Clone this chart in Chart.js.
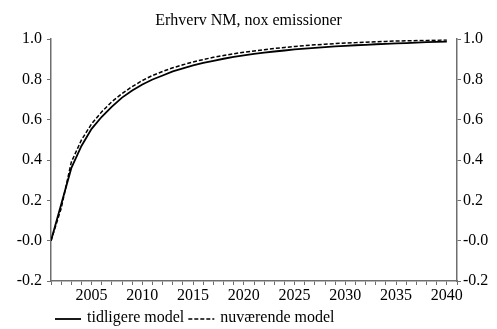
<!DOCTYPE html>
<html>
<head>
<meta charset="utf-8">
<script src="https://cdn.jsdelivr.net/npm/chart.js@4/dist/chart.umd.min.js"></script>
<style>
  html, body { margin: 0; padding: 0; background: #fff; }
  #wrap { width: 497px; height: 329px; }
</style>
</head>
<body>
<div id="wrap"><canvas id="c" width="497" height="329"></canvas></div>
<script>
// Years 2001-2040
const years = [];
for (let y = 2001; y <= 2040; y++) years.push(y);

// Tidligere model (solid)
const tidligere = [
  0.000, 0.180, 0.360, 0.470, 0.555, 0.615, 0.665, 0.710, 0.745, 0.775,
  0.800, 0.820, 0.840, 0.855, 0.870, 0.882, 0.893, 0.903, 0.912, 0.920,
  0.927, 0.933, 0.939, 0.944, 0.949, 0.953, 0.957, 0.961, 0.964, 0.967,
  0.970, 0.972, 0.975, 0.977, 0.979, 0.981, 0.983, 0.985, 0.987, 0.988
];

// Nuværende model (dashed)
const nuvaerende = [
  0.000, 0.160, 0.390, 0.500, 0.580, 0.640, 0.690, 0.730, 0.765, 0.795,
  0.820, 0.840, 0.858, 0.873, 0.887, 0.899, 0.910, 0.919, 0.928, 0.935,
  0.942, 0.948, 0.954, 0.959, 0.964, 0.968, 0.972, 0.975, 0.978, 0.981,
  0.983, 0.985, 0.987, 0.989, 0.991, 0.992, 0.993, 0.994, 0.995, 0.996
];

const seriesNames = ['tidligere model', 'nuværende model'];
const yTickLabels = ['-0.2', '-0.0', '0.2', '0.4', '0.6', '0.8', '1.0'];
const xLabelYears = [2005, 2010, 2015, 2020, 2025, 2030, 2035, 2040];
const titleText = 'Erhverv NM, nox emissioner';

const FONT = 'Liberation Serif, "Times New Roman", serif';
const AXIS = '#6e6e6e';

function toPoints(vals) {
  return vals.map((v, i) => ({ x: years[i], y: v }));
}

function yLabel(value, index) {
  return yTickLabels[index];
}

// Legend drawn beneath the x axis
const bottomLegend = {
  id: 'bottomLegend',
  afterDraw(chart) {
    const ctx = chart.ctx;
    const area = chart.chartArea;
    const y = 318;
    let x = area.left + 4;
    ctx.save();
    ctx.font = '16px ' + FONT;
    ctx.textBaseline = 'middle';
    ctx.fillStyle = '#000';
    chart.data.datasets.forEach((ds) => {
      ctx.beginPath();
      ctx.strokeStyle = '#000';
      ctx.lineWidth = ds.borderWidth;
      ctx.setLineDash(ds.borderDash || []);
      ctx.moveTo(x, y + 1);
      ctx.lineTo(x + 26, y + 1);
      ctx.stroke();
      ctx.setLineDash([]);
      x += 32;
      ctx.fillText(ds.label, x, y);
      x += ctx.measureText(ds.label).width + 4;
    });
    ctx.restore();
  }
};

new Chart(document.getElementById('c'), {
  type: 'line',
  data: {
    datasets: [
      {
        label: seriesNames[0],
        data: toPoints(tidligere),
        borderColor: '#000',
        borderWidth: 1.8,
        pointRadius: 0,
        tension: 0,
        fill: false
      },
      {
        label: seriesNames[1],
        data: toPoints(nuvaerende),
        borderColor: '#000',
        borderWidth: 1.5,
        borderDash: [4, 2],
        pointRadius: 0,
        tension: 0,
        fill: false
      }
    ]
  },
  options: {
    responsive: false,
    animation: false,
    layout: { padding: { left: 0, right: 0, top: 0, bottom: 20 } },
    plugins: {
      legend: { display: false },
      tooltip: { enabled: false },
      title: {
        display: true,
        text: titleText,
        color: '#000',
        font: { family: FONT, size: 16, weight: 'normal' },
        padding: { top: 11, bottom: 9 }
      }
    },
    scales: {
      x: {
        type: 'linear',
        min: 2001,
        max: 2041,
        afterFit(s) { s.height = 28; },
        border: { display: true, color: AXIS, width: 1.5 },
        grid: { display: true, drawOnChartArea: false, drawTicks: true, tickLength: 4, color: AXIS, lineWidth: 1 },
        ticks: {
          stepSize: 1,
          autoSkip: false,
          maxRotation: 0,
          padding: 1,
          color: '#000',
          font: { family: FONT, size: 16 },
          callback: v => (xLabelYears.includes(v) ? String(v) : '')
        }
      },
      y: {
        position: 'left',
        min: -0.2,
        max: 1.0,
        afterFit(s) { s.width = 51; },
        border: { display: true, color: AXIS, width: 1.5 },
        grid: { display: true, drawOnChartArea: false, drawTicks: true, tickLength: 4, color: AXIS, lineWidth: 1 },
        ticks: {
          stepSize: 0.2,
          padding: 5,
          color: '#000',
          font: { family: FONT, size: 16 },
          callback: yLabel
        }
      },
      y2: {
        position: 'right',
        min: -0.2,
        max: 1.0,
        afterFit(s) { s.width = 40; },
        border: { display: true, color: AXIS, width: 1.5 },
        grid: { display: true, drawOnChartArea: false, drawTicks: true, tickLength: 4, color: AXIS, lineWidth: 1 },
        ticks: {
          stepSize: 0.2,
          padding: 2,
          color: '#000',
          font: { family: FONT, size: 16 },
          callback: yLabel
        }
      }
    }
  },
  plugins: [bottomLegend]
});
</script>
</body>
</html>
